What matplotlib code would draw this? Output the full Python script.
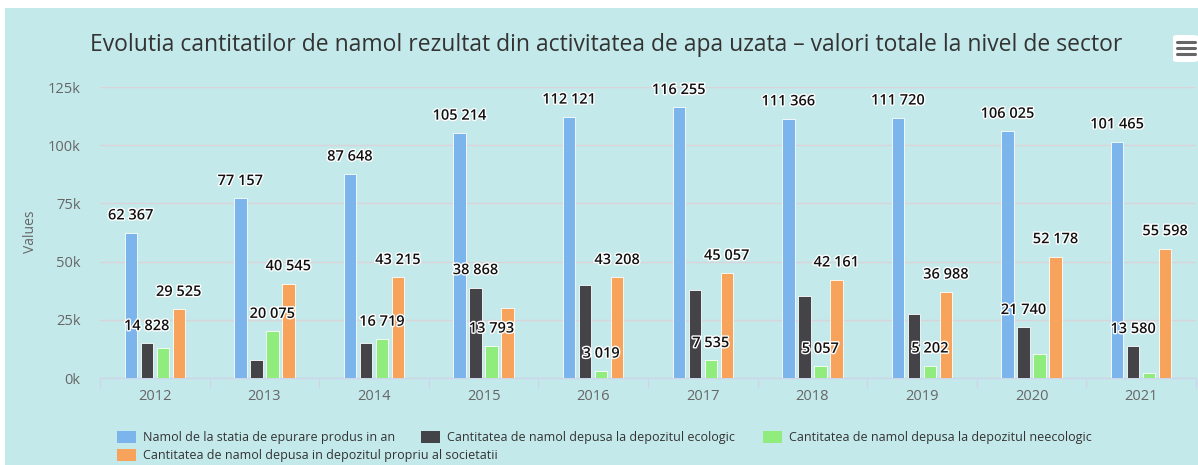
import matplotlib
matplotlib.use("Agg")
import matplotlib.pyplot as plt
import matplotlib.patheffects as pe
from matplotlib.patches import Rectangle, FancyBboxPatch
import numpy as np

years = ["2012", "2013", "2014", "2015", "2016", "2017", "2018", "2019", "2020", "2021"]
series_names = [
    "Namol de la statia de epurare produs in an",
    "Cantitatea de namol depusa la depozitul ecologic",
    "Cantitatea de namol depusa la depozitul neecologic",
    "Cantitatea de namol depusa in depozitul propriu al societatii",
]
namol_produs = [62367, 77157, 87648, 105214, 112121, 116255, 111366, 111720, 106025, 101465]
depozit_ecologic = [14828, 7700, 15000, 38868, 39900, 37800, 35200, 27500, 21740, 13580]
depozit_neecologic = [12800, 20075, 16719, 13793, 3019, 7535, 5057, 5202, 10300, 2200]
depozit_propriu = [29525, 40545, 43215, 30100, 43208, 45057, 42161, 36988, 52178, 55598]

# which data labels survive the overlap check in the original
labels_produs = [True] * 10
labels_ecologic = [True, False, False, True, False, False, False, False, True, True]
labels_neecologic = [False, True, True, True, True, True, True, True, False, False]
labels_propriu = [True, True, True, False, True, True, True, True, True, True]

colors = ["#7cb5ec", "#434348", "#90ed7d", "#f7a35c"]
bg = "#c4e9ea"
W, H = 1198, 465


def fx(x):
    return x / W


def fy(y):
    return 1 - y / H


fig = plt.figure(figsize=(W / 100, H / 100), dpi=100, facecolor="white")
fig.patches.append(Rectangle((fx(5), 0), 1 - fx(5), fy(8), transform=fig.transFigure,
                             facecolor=bg, edgecolor="none", zorder=-10))

ax = fig.add_axes([fx(100), fy(378), fx(1196) - fx(100), fy(87) - fy(378)])
ax.set_facecolor("none")

values = [namol_produs, depozit_ecologic, depozit_neecologic, depozit_propriu]
shown = [labels_produs, labels_ecologic, labels_neecologic, labels_propriu]
x = np.arange(len(years))
step = 0.146
width = 0.114
for k, (vals, col, show) in enumerate(zip(values, colors, shown)):
    xs = x + (k - 1.5) * step
    ax.bar(xs, vals, width=width, color=col, edgecolor="white", linewidth=0.6, zorder=3)
    for xi, v, s in zip(xs, vals, show):
        if s:
            ax.annotate(f"{v:,}".replace(",", " "), (xi, v), xytext=(0, 12.5),
                        textcoords="offset points", ha="center", va="center",
                        fontsize=10.5, fontweight="semibold", family="Open Sans",
                        color="#111111", zorder=5,
                        path_effects=[pe.withStroke(linewidth=2, foreground="white")])

ax.set_xlim(-0.5, len(years) - 0.5)
ax.set_ylim(0, 125000)
yt = np.arange(0, 125001, 25000)
ax.set_yticks(yt)
ax.set_yticklabels([f"{int(v // 1000)}k" for v in yt], family="Open Sans", fontsize=10.5, color="#666666")
ax.tick_params(axis="y", length=0, pad=14)
ax.set_xticks(x)
ax.set_xticklabels(years, family="Open Sans", fontsize=10.5, color="#666666")
ax.set_xticks(np.arange(-0.5, len(years)), minor=True)
ax.tick_params(axis="x", which="major", length=0, pad=8)
ax.tick_params(axis="x", which="minor", length=7.5, width=1, color="#ccd6eb")
ax.yaxis.grid(True, color="#d9d4d8", linewidth=1, zorder=0)
ax.set_axisbelow(True)
for s in ["top", "left", "right"]:
    ax.spines[s].set_visible(False)
ax.spines["bottom"].set_color("#ccd6eb")
ax.spines["bottom"].set_linewidth(1)

fig.text(fx(31), fy(232), "Values", rotation=90, ha="center", va="center",
         family="Open Sans", fontsize=10, color="#666666")

fig.text(fx(606), fy(45), "Evolutia cantitatilor de namol rezultat din activitatea de apa uzata \u2013 valori totale la nivel de sector",
         ha="center", va="center", family="Open Sans", fontsize=16.5, color="#333333")

# legend, drawn by hand to follow the flowing layout
legend_items = [(117, 437, 0), (421, 437, 1), (763, 437, 2), (117, 455, 3)]
for lx, ly, k in legend_items:
    fig.patches.append(Rectangle((fx(lx), fy(ly + 6)), 19 / W, 12 / H, transform=fig.transFigure,
                                 facecolor=colors[k], edgecolor="none", zorder=2))
    fig.text(fx(lx + 26), fy(ly), series_names[k], ha="left", va="center",
             family="Open Sans", fontsize=9, color="#333333")

# export menu button
fig.patches.append(FancyBboxPatch((fx(1173), fy(62)), 25 / W, 27 / H, transform=fig.transFigure,
                                  boxstyle="round,pad=0,rounding_size=0.004",
                                  facecolor="white", edgecolor="none", zorder=2))
for ly in (42, 48, 54):
    fig.lines.append(plt.Line2D([fx(1177), fx(1195)], [fy(ly), fy(ly)], transform=fig.transFigure,
                                color="#666666", linewidth=2.2, solid_capstyle="round", zorder=3))

fig.savefig("out.png", dpi=100, facecolor="white")
